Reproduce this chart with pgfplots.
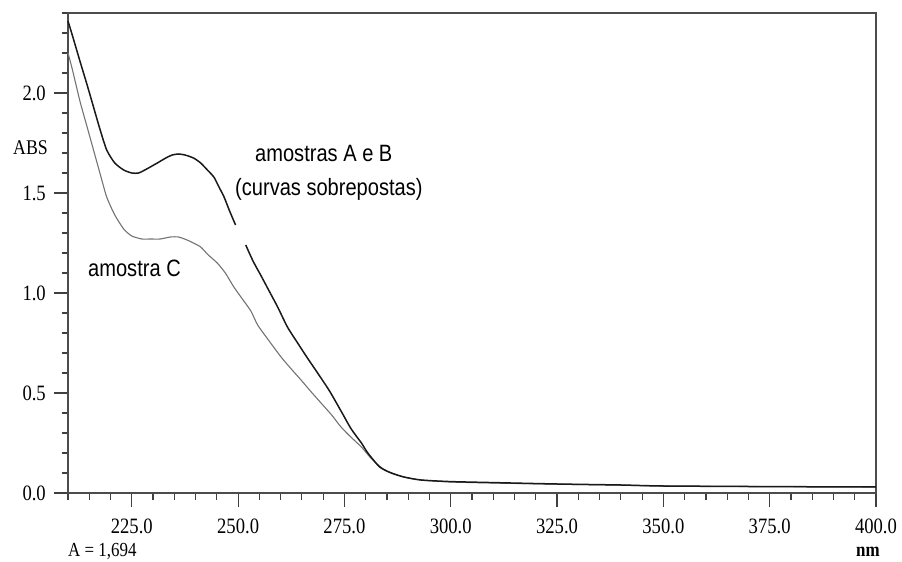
\documentclass[border=0pt]{standalone}
\usepackage{fontspec}
\setmainfont{Liberation Sans}
\newfontfamily\tickfont[FakeStretch=0.85]{Liberation Serif}
\newfontfamily\annfont[FakeStretch=0.85]{Liberation Sans}
\usepackage{pgfplots}
\pgfplotsset{compat=1.18}

\pgfplotstableread{
x y
210 2.36
211 2.29
212.8 2.16
214.5 2.04
216 1.93
217.5 1.82
219.1 1.715
221 1.65
223.1 1.615
225 1.60
226.6 1.60
228.5 1.62
231 1.65
233 1.675
234.5 1.69
236 1.695
237.5 1.69
239.5 1.675
241.2 1.65
243 1.61
244.3 1.58
245.5 1.53
246.7 1.48
248 1.41
249.4 1.34
}\abone

\pgfplotstableread{
x y
251.8 1.24
253.5 1.16
255.3 1.09
257.3 1.01
259.3 0.93
261.6 0.83
264 0.75
266.3 0.675
268.7 0.60
271.5 0.51
274.2 0.41
276.6 0.32
279 0.25
280.5 0.20
283.3 0.13
286 0.10
289 0.08
293 0.065
300 0.057
310 0.052
325 0.045
340 0.040
350 0.035
375 0.032
400 0.030
}\abtwo

\pgfplotstableread{
x y
210 2.20
211 2.12
212.8 1.96
214.5 1.83
216 1.715
217.5 1.60
219.1 1.48
221 1.39
223.1 1.32
225 1.285
227.4 1.27
229.4 1.27
231.7 1.27
234.1 1.28
236 1.28
238 1.265
239.5 1.25
241.2 1.23
243 1.19
245.1 1.15
247 1.10
249 1.03
251 0.97
253 0.91
254.6 0.84
257.3 0.76
260.1 0.68
262.5 0.62
264.8 0.565
267 0.51
269.5 0.45
272 0.39
274.2 0.33
276.5 0.28
279 0.23
281 0.18
282.9 0.14
285 0.11
289 0.08
293 0.065
300 0.055
310 0.050
325 0.044
340 0.039
350 0.035
375 0.032
400 0.030
}\csample

\begin{document}
\begin{tikzpicture}
\path[use as bounding box] (-68bp,-69bp) rectangle (834bp,493bp);
\begin{axis}[
  at={(0,0)}, anchor=south west,
  scale only axis, width=808bp, height=480bp,
  xmin=210, xmax=400, ymin=0, ymax=2.4,
  clip=false,
  axis line style={draw=black!70, line width=1.4bp},
  xtick={225,250,...,400},
  minor xtick={210,215,...,400},
  ytick={0,0.5,1,1.5,2},
  minor ytick={0.1,0.2,0.3,0.4,0.6,0.7,0.8,0.9,1.1,1.2,1.3,1.4,1.6,1.7,1.8,1.9,2.1,2.2,2.3,2.4},
  tick align=outside, xtick pos=bottom, ytick pos=left,
  major tick length=14bp, minor tick length=6.5bp,
  every tick/.style={black!75, line width=1.2bp},
  every tick label/.append style={font=\tickfont\fontsize{22}{22}\selectfont, inner sep=0pt},
  xticklabel style={yshift=-12bp},
  yticklabel style={xshift=-8bp},
  /pgf/number format/.cd, fixed, fixed zerofill, precision=1, assume math mode=true,
]
\addplot[black!55, line width=1.1bp, smooth, tension=0.4] table {\csample};
\addplot[black!90, line width=1.5bp, smooth, tension=0.4] table {\abone};
\addplot[black!90, line width=1.5bp, smooth, tension=0.4] table {\abtwo};
\end{axis}
\node[anchor=base west, inner sep=0pt, font=\tickfont\fontsize{21}{21}\selectfont] at (-55bp,338bp) {ABS};
\node[anchor=base west, inner sep=0pt, font=\tickfont\fontsize{20}{20}\selectfont] at (0bp,-63bp) {A = 1,694};
\node[anchor=base west, inner sep=0pt, font=\tickfont\fontsize{20}{20}\selectfont\bfseries] at (788bp,-63bp) {nm};
\node[anchor=base west, inner sep=0pt, font=\annfont\fontsize{23.7}{23.7}\selectfont] at (187bp,331bp) {amostras A e B};
\node[anchor=base west, inner sep=0pt, font=\annfont\fontsize{23.7}{23.7}\selectfont] at (167bp,297bp) {(curvas sobrepostas)};
\node[anchor=base west, inner sep=0pt, font=\annfont\fontsize{23.7}{23.7}\selectfont] at (20bp,216bp) {amostra C};
\end{tikzpicture}
\end{document}
